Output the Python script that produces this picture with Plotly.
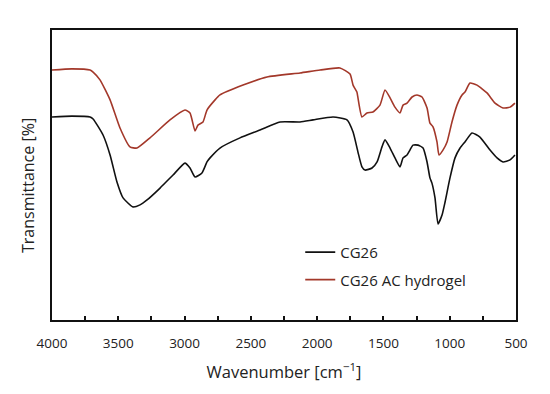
import plotly.graph_objects as go

# Wavenumber (cm^-1) and transmittance (arbitrary %)
wn_red = [4000, 3850, 3713, 3690, 3638, 3562, 3487, 3412, 3359, 3261, 3110, 2997, 2959,
          2921, 2899, 2861, 2831, 2770, 2733, 2559, 2378, 2129, 1978, 1828, 1752, 1729,
          1700, 1692, 1662, 1624, 1579, 1526, 1488, 1450, 1413, 1375, 1352, 1322, 1284,
          1247, 1209, 1171, 1149, 1126, 1096, 1081, 1051, 1020, 983, 945, 907, 885, 847,
          794, 719, 658, 598, 545, 508]
t_red = [86.2, 86.6, 86.2, 85.5, 82.8, 75.9, 66.2, 59.7, 59.3, 62.8, 69.0, 72.4, 71.4,
         65.2, 67.2, 68.3, 72.4, 75.9, 77.6, 81.0, 83.8, 85.2, 86.2, 86.9, 84.8, 81.0,
         78.6, 76.6, 70.0, 71.4, 71.7, 74.1, 79.3, 76.6, 73.4, 71.4, 74.1, 74.8, 76.9,
         77.6, 76.9, 73.1, 67.9, 66.6, 61.4, 56.9, 58.6, 61.4, 68.3, 74.1, 77.6, 78.6, 81.7,
         81.0, 78.3, 74.8, 73.1, 73.4, 74.8]

wn_black = [4000, 3850, 3713, 3690, 3615, 3562, 3510, 3464, 3389, 3336, 3283, 3185, 3087,
            2997, 2959, 2921, 2869, 2831, 2808, 2733, 2582, 2431, 2280, 2129, 2031, 1880,
            1775, 1729, 1692, 1662, 1639, 1586, 1548, 1511, 1488, 1450, 1413, 1375, 1352,
            1322, 1300, 1277, 1239, 1201, 1171, 1149, 1134, 1111, 1088, 1058, 1035, 998,
            960, 922, 885, 832, 772, 696, 643, 598, 545, 508]
t_black = [70.0, 70.3, 70.0, 69.3, 63.8, 56.9, 47.6, 42.1, 39.0, 39.7, 41.4, 45.5, 50.0,
           54.1, 52.4, 49.3, 50.7, 54.5, 55.9, 59.3, 62.8, 65.5, 68.3, 68.3, 69.0, 70.0,
           69.0, 64.8, 57.9, 52.8, 51.7, 52.4, 54.5, 59.7, 62.1, 59.3, 55.9, 52.8, 55.9,
           56.9, 58.6, 60.3, 60.3, 59.3, 54.5, 49.0, 47.2, 42.1, 33.1, 36.2, 40.7, 49.0,
           55.9, 59.3, 61.4, 64.5, 63.1, 58.6, 55.9, 54.5, 55.2, 56.9]

x_ticks = [4000, 3500, 3000, 2500, 2000, 1500, 1000, 500]

FONT = "Open Sans"
TXT = "#222222"

fig = go.Figure()
fig.add_trace(go.Scatter(x=wn_black, y=t_black, mode="lines", name="CG26",
                         line=dict(color="#111111", width=1.6, shape="spline", smoothing=0.5),
                         legendgroup="a"))
fig.add_trace(go.Scatter(x=wn_red, y=t_red, mode="lines", name="CG26 AC hydrogel",
                         line=dict(color="#A3382A", width=1.6, shape="spline", smoothing=0.5),
                         legendgroup="b"))

# the page body has an 8px default margin: compensate so the plot area sits at 52..516 x 30..320
fig.update_layout(
    width=550, height=394,
    margin=dict(l=44, r=42, t=22, b=82, autoexpand=False),
    paper_bgcolor="white", plot_bgcolor="white",
    font=dict(family=FONT, color=TXT),
    showlegend=True,
    legend=dict(x=0.535, y=0.29, xanchor="left", yanchor="top",
                bgcolor="rgba(0,0,0,0)", font=dict(size=15, family=FONT, color=TXT),
                tracegroupgap=5, traceorder="grouped"),
    annotations=[dict(text="Transmittance [%]", textangle=-90, xref="paper", yref="paper",
                      x=-0.0517, y=0.462, xanchor="center", yanchor="middle", showarrow=False,
                      font=dict(size=16, family=FONT, color=TXT))],
)
fig.update_xaxes(
    range=[4000, 500], tickvals=x_ticks, ticktext=[str(v) for v in x_ticks],
    ticks="inside", ticklen=4, tickwidth=1.5, tickcolor="#111", ticklabelstandoff=10,
    minor=dict(dtick=250, tick0=500, ticks="inside", ticklen=4, tickwidth=1.5, tickcolor="#111"),
    showline=True, linecolor="#111", linewidth=2, mirror=True,
    showgrid=False, zeroline=False,
    tickfont=dict(size=13.5, family=FONT, color=TXT),
    title=dict(text="Wavenumber [cm<sup>−1</sup>]", font=dict(size=16.5, family=FONT, color=TXT), standoff=15),
    automargin=False,
)
fig.update_yaxes(
    range=[0, 100], showticklabels=False, ticks="",
    showline=True, linecolor="#111", linewidth=2, mirror=True,
    showgrid=False, zeroline=False,
    automargin=False,
)

fig.write_html("out.html")
